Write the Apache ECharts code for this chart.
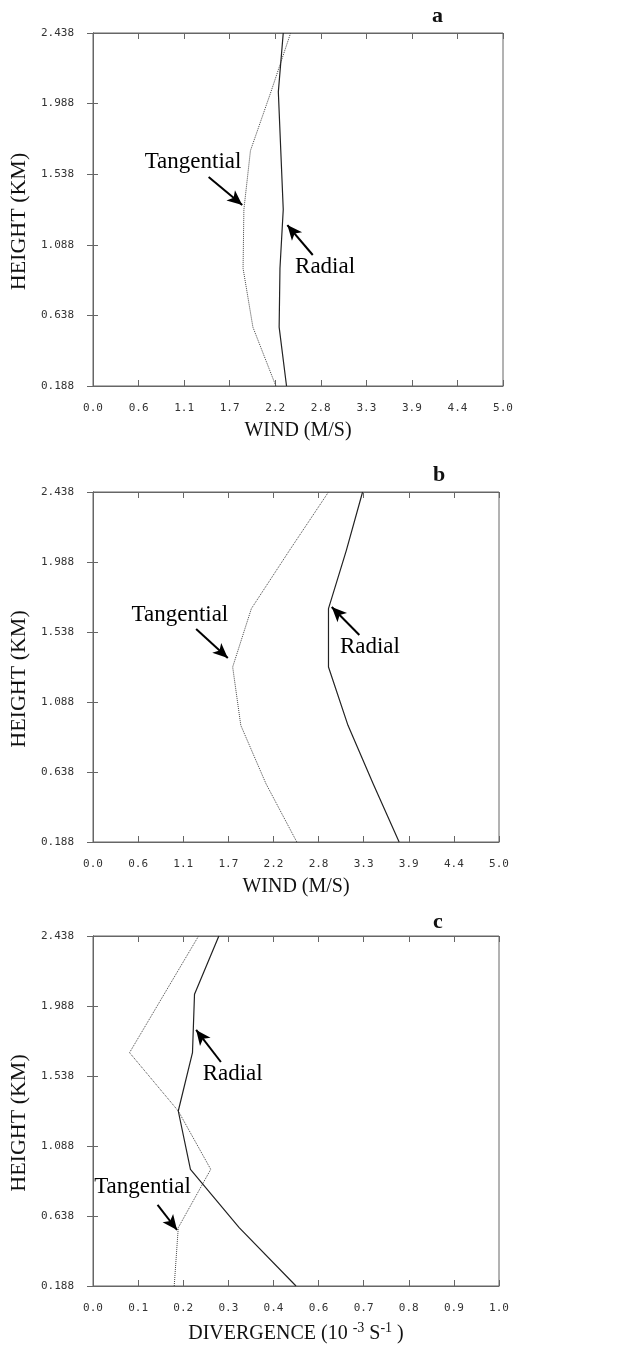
<!DOCTYPE html>
<html>
<head>
<meta charset="utf-8">
<script src="https://cdn.jsdelivr.net/npm/echarts@6/dist/echarts.min.js"></script>
<style>
html,body{margin:0;padding:0;background:#fff;}
#c{width:627px;height:1346px;}
</style>
</head>
<body>
<div id="c"></div>
<script>
// ---- data ----
const heights = [0.188, 0.563, 0.938, 1.313, 1.688, 2.063, 2.438];
const heightTicks = [0.188, 0.638, 1.088, 1.538, 1.988, 2.438];
const windTickLabels = ['0.0','0.6','1.1','1.7','2.2','2.8','3.3','3.9','4.4','5.0'];
const divTickLabels = ['0.0','0.1','0.2','0.3','0.4','0.6','0.7','0.8','0.9','1.0'];
const panelLetters = ['a','b','c'];

const tangentialA = [2.23, 1.95, 1.83, 1.84, 1.92, 2.17, 2.41];
const radialA     = [2.36, 2.27, 2.28, 2.32, 2.29, 2.26, 2.32];
const tangentialB = [2.51, 2.13, 1.82, 1.72, 1.95, 2.42, 2.90];
const radialB     = [3.77, 3.45, 3.14, 2.90, 2.90, 3.12, 3.32];
const tangentialC = [0.20, 0.21, 0.29, 0.21, 0.09, 0.175, 0.26];
const radialC     = [0.50, 0.36, 0.24, 0.21, 0.245, 0.25, 0.31];

// annotation anchors in data units: [textX, textY, arrowFromX, arrowFromY, arrowToX, arrowToY]
const annTangential = [[1.22, 1.616, 1.41, 1.52, 1.82, 1.342],
                       [1.07, 1.647, 1.27, 1.557, 1.66, 1.371],
                       [0.122, 0.824, 0.159, 0.709, 0.207, 0.548]];
const annRadial = [[2.83, 0.947, 2.68, 1.023, 2.37, 1.214],
                   [3.41, 1.442, 3.28, 1.519, 2.94, 1.699],
                   [0.344, 1.551, 0.315, 1.628, 0.254, 1.834]];

const xMax = [5, 5, 1];
const xNames = ['WIND (M/S)', 'WIND (M/S)', 'DIVERGENCE (10 {sup|-3} S{sup|-1} )'];
const xLabels = [windTickLabels, windTickLabels, divTickLabels];
const tangential = [tangentialA, tangentialB, tangentialC];
const radial = [radialA, radialB, radialC];

// ---- layout ----
const grids = [
  {left: 92, top: 33, width: 411, height: 353},
  {left: 89, top: 492, width: 410, height: 350},
  {left: 89, top: 936, width: 410, height: 350}
];
const letterPos = [[427, 0], [428, 459], [428, 906]];

const serif = 'Liberation Serif';
const mono = 'DejaVu Sans Mono';
const frame = '#666';

const option = {
  backgroundColor: '#fff',
  animation: false,
  title: panelLetters.map((t, i) => ({
    text: t, left: letterPos[i][0], top: letterPos[i][1],
    textStyle: {fontFamily: serif, fontWeight: 'bold', fontSize: 22, color: '#111'}
  })),
  grid: grids.map(g => Object.assign({show: true, borderColor: frame, borderWidth: 1, backgroundColor: '#fff'}, g)),
  xAxis: [],
  yAxis: [],
  series: []
};

for (let i = 0; i < 3; i++) {
  const labels = xLabels[i];
  option.xAxis.push({
    type: 'value', gridIndex: i, position: 'bottom', min: 0, max: xMax[i], interval: xMax[i] / 9,
    name: xNames[i], nameLocation: 'middle', nameGap: 35,
    nameTextStyle: {fontFamily: serif, fontSize: 20, color: '#111',
      rich: {sup: {fontFamily: serif, fontSize: 14, color: '#111', verticalAlign: 'top', padding: [0,0,12,0]}}},
    axisLine: {show: true, lineStyle: {color: frame, width: 1}},
    axisTick: {show: true, inside: true, length: 6, lineStyle: {color: frame}},
    axisLabel: {show: true, margin: 17, fontFamily: mono, fontSize: 11, color: '#333',
      formatter: (v, idx) => labels[idx]},
    splitLine: {show: false}
  });
  option.xAxis.push({
    type: 'value', gridIndex: i, position: 'top', min: 0, max: xMax[i], interval: xMax[i] / 9,
    axisLine: {show: true, lineStyle: {color: frame, width: 1}},
    axisTick: {show: true, inside: true, length: 6, lineStyle: {color: frame}},
    axisLabel: {show: false}, splitLine: {show: false}
  });
  option.yAxis.push({
    type: 'value', gridIndex: i, position: 'left', min: 0.188, max: 2.438,
    name: 'HEIGHT (KM)', nameLocation: 'middle', nameGap: i === 0 ? 47 : 44, nameRotate: 90,
    nameTextStyle: {fontFamily: serif, fontSize: 22, color: '#111', padding: [0, 24, 0, 0]},
    axisLine: {show: true, lineStyle: {color: frame, width: 1}},
    axisTick: {show: true, inside: true, length: 5, lineStyle: {color: frame}, customValues: heightTicks},
    axisLabel: {show: true, margin: 19, fontFamily: mono, fontSize: 11, color: '#333',
      customValues: heightTicks, formatter: v => v.toFixed(3)},
    splitLine: {show: false}
  });
  option.yAxis.push({
    type: 'value', gridIndex: i, position: 'right', min: 0.188, max: 2.438,
    axisLine: {show: true, lineStyle: {color: frame, width: 1}},
    axisTick: {show: true, inside: true, length: 6, lineStyle: {color: frame}, customValues: heightTicks},
    axisLabel: {show: false, customValues: heightTicks}, splitLine: {show: false}
  });

  const t = annTangential[i], r = annRadial[i];
  const lbl = (txt) => ({show: true, position: 'inside', formatter: txt,
    fontFamily: serif, fontSize: 23, color: '#000'});
  option.series.push({
    type: 'line', name: 'Tangential', xAxisIndex: 2 * i, yAxisIndex: 2 * i,
    data: tangential[i].map((v, k) => [v, heights[k]]),
    symbol: 'none', silent: true,
    lineStyle: {type: 'dotted', width: 1, color: '#444'},
    markPoint: {symbol: 'circle', symbolSize: 0, silent: true,
      data: [{coord: [t[0], t[1]], label: lbl('Tangential')}]},
    markLine: {symbol: ['none', 'arrow'], symbolSize: [10, 15], silent: true,
      lineStyle: {type: 'solid', color: '#000', width: 2}, label: {show: false},
      data: [[{coord: [t[2], t[3]]}, {coord: [t[4], t[5]]}]]}
  });
  option.series.push({
    type: 'line', name: 'Radial', xAxisIndex: 2 * i, yAxisIndex: 2 * i,
    data: radial[i].map((v, k) => [v, heights[k]]),
    symbol: 'none', silent: true,
    lineStyle: {type: 'solid', width: 1.2, color: '#222'},
    markPoint: {symbol: 'circle', symbolSize: 0, silent: true,
      data: [{coord: [r[0], r[1]], label: lbl('Radial')}]},
    markLine: {symbol: ['none', 'arrow'], symbolSize: [10, 15], silent: true,
      lineStyle: {type: 'solid', color: '#000', width: 2}, label: {show: false},
      data: [[{coord: [r[2], r[3]]}, {coord: [r[4], r[5]]}]]}
  });
}

const chart = echarts.init(document.getElementById('c'), null, {renderer: 'canvas'});
chart.setOption(option);
</script>
</body>
</html>
